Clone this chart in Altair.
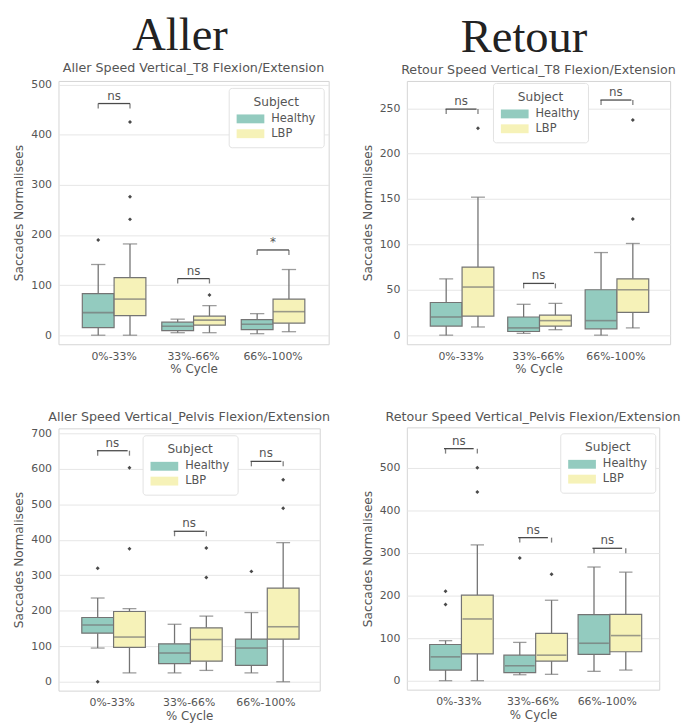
import altair as alt
import pandas as pd

CATEGORIES = ["0%-33%", "33%-66%", "66%-100%"]
SUBJECTS = ["Healthy", "LBP"]
COLORS = ["#93cbbf", "#f6f2b8"]

# order of values: (0-33 Healthy, 0-33 LBP, 33-66 Healthy, 33-66 LBP, 66-100 Healthy, 66-100 LBP)
A_T8_LOW = [0, 0, 5, 5, 3, 7]
A_T8_Q1 = [15, 39, 9, 20, 11, 24]
A_T8_MED = [45, 72, 18, 30, 22, 47]
A_T8_Q3 = [83, 115, 26, 38, 31, 72]
A_T8_HIGH = [141, 182, 32, 59, 43, 131]
A_T8_OUT = [[190], [231, 276, 425], [], [80], [], []]
A_T8_BRACKET = [462, 113, 170]
A_T8_SIG = ["ns", "ns", "*"]

R_T8_LOW = [0, 9, 2, 6, 0, 8]
R_T8_Q1 = [10, 21, 4, 10, 7, 25]
R_T8_MED = [20, 53, 8, 16, 16, 50]
R_T8_Q3 = [36, 75, 20, 22, 50, 62]
R_T8_HIGH = [62, 152, 34, 35, 91, 101]
R_T8_OUT = [[], [228], [], [], [], [128, 237]]
R_T8_BRACKET = [249, 57, 259]
R_T8_SIG = ["ns", "ns", "ns"]

A_PV_LOW = [95, 25, 25, 32, 25, 0]
A_PV_Q1 = [137, 97, 51, 58, 46, 120]
A_PV_MED = [160, 126, 81, 119, 95, 155]
A_PV_Q3 = [181, 198, 107, 152, 120, 264]
A_PV_HIGH = [236, 206, 162, 185, 195, 392]
A_PV_OUT = [[0, 320], [375, 603], [], [294, 377], [311], [489, 569]]
A_PV_BRACKET = [651, 424, 621]
A_PV_SIG = ["ns", "ns", "ns"]

R_PV_LOW = [0, 0, 14, 15, 22, 25]
R_PV_Q1 = [25, 63, 19, 46, 62, 68]
R_PV_MED = [56, 145, 35, 60, 88, 106]
R_PV_Q3 = [85, 201, 60, 111, 155, 156]
R_PV_HIGH = [94, 319, 90, 189, 267, 255]
R_PV_OUT = [[179, 210], [443, 500], [288], [250], [], []]
R_PV_BRACKET = [545, 336, 311]
R_PV_SIG = ["ns", "ns", "ns"]

FONT = "DejaVu Sans"
TXT = "#555555"
LINE = "#747474"
DARK = "#4a4a4a"


def panel(title, low, q1, med, q3, high, outs, br, sig, ydom, yticks, w, h, lx, ly):
    rows, orows, brows = [], [], []
    for i, c in enumerate(CATEGORIES):
        for j, s in enumerate(SUBJECTS):
            k = i * 2 + j
            rows.append(dict(cat=c, subject=s, low=low[k], q1=q1[k], med=med[k],
                             q3=q3[k], high=high[k]))
            for v in outs[k]:
                orows.append(dict(cat=c, subject=s, value=v))
            brows.append(dict(cat=c, subject=s, y=br[i]))
    df = pd.DataFrame(rows)
    odf = pd.DataFrame(orows)
    bdf = pd.DataFrame(brows)
    sdf = pd.DataFrame(dict(cat=CATEGORIES, y=br, label=sig))

    step = w / 3.4
    boxw = 0.4 * step

    xscale = alt.Scale(domain=CATEGORIES, paddingInner=0, paddingOuter=0.2)
    xaxis = alt.Axis(labelAngle=0, ticks=False, domain=False, grid=False,
                     labelPadding=6, titlePadding=3, labelFontSize=11,
                     titleFontSize=12, titleFontWeight="normal", labelFont=FONT,
                     titleFont=FONT, labelColor=TXT, titleColor=TXT)
    yscale = alt.Scale(domain=ydom, nice=False, zero=False)
    yaxis = alt.Axis(values=yticks, ticks=False, domain=False, labelPadding=7,
                     titlePadding=5, labelFontSize=11, titleFontSize=12.3,
                     titleFontWeight="normal", labelFont=FONT, titleFont=FONT,
                     labelColor=TXT, titleColor=TXT, gridColor="#e6e6e6")

    def X(**kw):
        return alt.X("cat:N", scale=xscale, axis=xaxis, title="% Cycle", **kw)

    XO = alt.XOffset("subject:N", scale=alt.Scale(domain=SUBJECTS, paddingInner=0,
                                                   paddingOuter=0.25))

    def Y(f):
        return alt.Y(f + ":Q", scale=yscale, axis=yaxis, title="Saccades Normalisees")

    base = alt.Chart(df)
    wl = base.mark_rule(color=LINE, strokeWidth=1.3).encode(x=X(), xOffset=XO, y=Y("low"), y2="q1")
    wh = base.mark_rule(color=LINE, strokeWidth=1.3).encode(x=X(), xOffset=XO, y=Y("q3"), y2="high")
    leg = alt.Legend(orient="none", legendX=lx, legendY=ly, title="Subject",
                     symbolType="M-1,-0.64H3V0.64H-1Z", symbolSize=196,
                     symbolStrokeWidth=0, fillColor="white", strokeColor="#e2e2e2",
                     padding=8, cornerRadius=3, titleAnchor="middle",
                     titleFontSize=12.3, labelFontSize=11.5, titleFont=FONT,
                     labelFont=FONT, titleColor=TXT, labelColor=TXT,
                     titleFontWeight="normal", rowPadding=2, labelOffset=21,
                     titlePadding=4)
    boxes = base.mark_bar(stroke=LINE, strokeWidth=1.2).encode(
        x=X(), xOffset=XO, y=Y("q1"), y2="q3",
        color=alt.Color("subject:N", scale=alt.Scale(domain=SUBJECTS, range=COLORS),
                        legend=leg))
    meds = base.mark_tick(color=LINE, thickness=1.6, size=boxw).encode(x=X(), xOffset=XO, y=Y("med"))
    capl = base.mark_tick(color=LINE, thickness=1.3, size=boxw * 0.45).encode(x=X(), xOffset=XO, y=Y("low"))
    caph = base.mark_tick(color=LINE, thickness=1.3, size=boxw * 0.45).encode(x=X(), xOffset=XO, y=Y("high"))
    pts = alt.Chart(odf).mark_point(shape="diamond", filled=True, size=16, color=DARK,
                                    opacity=1).encode(x=X(), xOffset=XO, y=Y("value"))
    brh = alt.Chart(sdf).mark_rule(color=DARK, strokeWidth=1.3).encode(
        x=X(bandPosition=0.3), x2=alt.X2("cat", bandPosition=0.7), y=Y("y"))
    brv = alt.Chart(bdf).mark_tick(orient="vertical", size=5, thickness=1.3, yOffset=2.5,
                                   color=DARK).encode(x=X(), xOffset=XO, y=Y("y"))
    txt = alt.Chart(sdf).mark_text(baseline="bottom", dy=-1, fontSize=12, font=FONT,
                                   color=TXT).encode(x=X(), y=Y("y"), text="label:N")
    return alt.layer(wl, wh, boxes, meds, capl, caph, pts, brh, brv, txt).properties(
        width=w, height=h,
        title=alt.TitleParams(title, fontSize=12.8, font=FONT, color=TXT,
                              fontWeight="normal", offset=4),
    )


p1 = panel("Aller Speed Vertical_T8 Flexion/Extension", A_T8_LOW, A_T8_Q1, A_T8_MED, A_T8_Q3,
           A_T8_HIGH, A_T8_OUT, A_T8_BRACKET, A_T8_SIG, [-18, 507], list(range(0, 501, 100)),
           273, 266, 172, 7)
p2 = panel("Retour Speed Vertical_T8 Flexion/Extension", R_T8_LOW, R_T8_Q1, R_T8_MED, R_T8_Q3,
           R_T8_HIGH, R_T8_OUT, R_T8_BRACKET, R_T8_SIG, [-10, 280], list(range(0, 251, 50)),
           266, 266, 87, 2)
p3 = panel("Aller Speed Vertical_Pelvis Flexion/Extension", A_PV_LOW, A_PV_Q1, A_PV_MED, A_PV_Q3,
           A_PV_HIGH, A_PV_OUT, A_PV_BRACKET, A_PV_SIG, [-25, 714], list(range(0, 701, 100)),
           264, 265, 85, 7)
p4 = panel("Retour Speed Vertical_Pelvis Flexion/Extension", R_PV_LOW, R_PV_Q1, R_PV_MED, R_PV_Q3,
           R_PV_HIGH, R_PV_OUT, R_PV_BRACKET, R_PV_SIG, [-21, 595], list(range(0, 501, 100)),
           255, 265, 155, 6)

col1 = alt.vconcat(p1, p3, spacing=34, title=alt.TitleParams(
    "Aller", font="Liberation Serif", fontSize=47, color="#222222", fontWeight="normal",
    anchor="start", dx=121, offset=2)).resolve_scale(color="independent").resolve_legend(color="independent")
col2 = alt.vconcat(p2, p4, spacing=34, title=alt.TitleParams(
    "Retour", font="Liberation Serif", fontSize=47, color="#222222", fontWeight="normal",
    anchor="start", dx=101, offset=2)).resolve_scale(color="independent").resolve_legend(color="independent")

chart = alt.hconcat(col1, col2, spacing=30).resolve_scale(color="independent").resolve_legend(
    color="independent").properties(
    padding={"left": 4, "top": 0, "right": 0, "bottom": 0}).configure_view(
    stroke="#d5d5d5", strokeWidth=1).configure_axis(
    labelFont=FONT, titleFont=FONT, labelColor=TXT, titleColor=TXT, labelFontSize=11,
    titleFontSize=12, titleFontWeight="normal", gridColor="#e6e6e6", gridWidth=1
)

chart.save("out.html", embed_options={"renderer": "svg", "actions": False})
